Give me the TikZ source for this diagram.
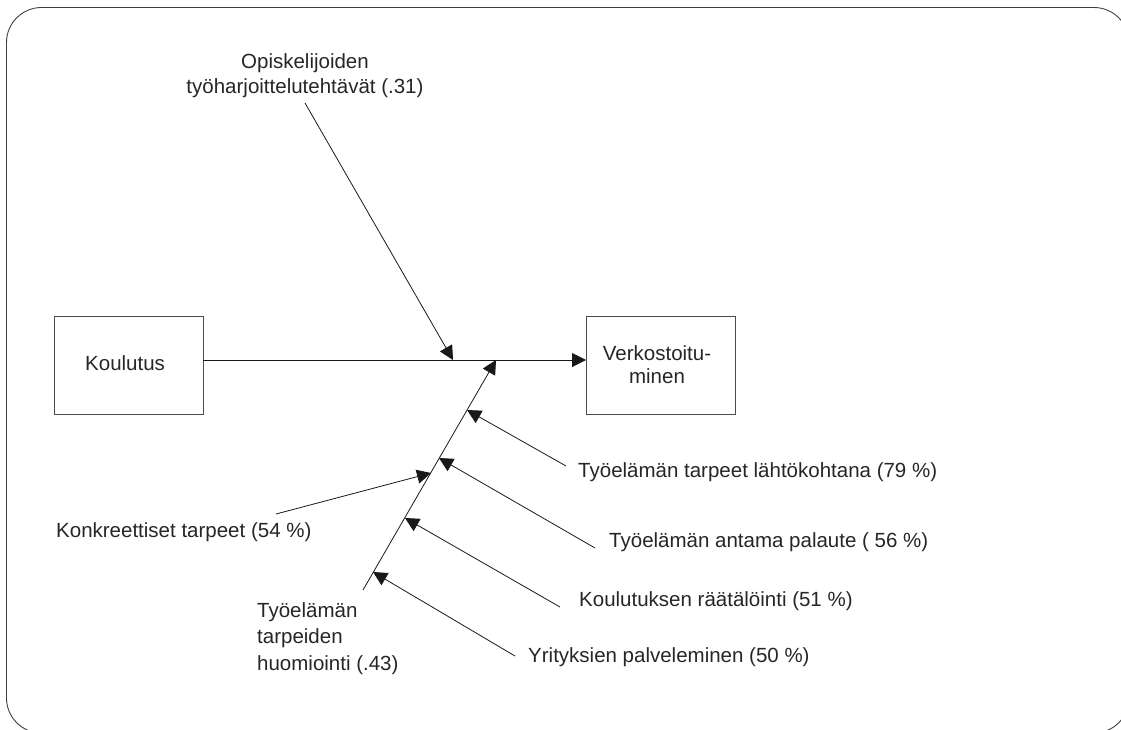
\documentclass[tikz,border=0pt]{standalone}
\usepackage{fontspec}
\setmainfont{Liberation Sans}
\usetikzlibrary{arrows.meta}
\begin{document}
\begin{tikzpicture}[x=1pt,y=-1pt,
  conn/.style={line width=0.8pt, draw=black!90},
  arr/.style={conn, -{Triangle[length=14pt,width=14pt]}},
  lbl/.style={font=\fontsize{20.5}{25}\selectfont, inner sep=0pt, anchor=base west, text=black!85},
  boxnode/.style={draw=black!70, line width=0.9pt, minimum width=149pt, minimum height=98pt, inner sep=0pt}]
\useasboundingbox (0,0) rectangle (1121,729);
\begin{scope}
  \clip (0,0) rectangle (1121,729);
  \draw[line width=0.9pt, draw=black!75, rounded corners=35pt] (6.5,7.5) rectangle (1129,733);
\end{scope}
% boxes
\node[boxnode] (koul) at (128.5,365) {};
\node[boxnode] (verk) at (661,365) {};
\node[lbl] (koult) at (85,370) {Koulutus};
\node[lbl, anchor=base, align=center, font=\fontsize{20.5}{23}\selectfont] (verkt) at (657,383) {Verkostoitu-\\minen};
% main line
\draw[arr] ([yshift=5pt]koul.east) -- ([yshift=5pt]verk.west);
% top cause
\node[lbl, anchor=base, align=center] (opis) at (305,93) {Opiskelijoiden\\työharjoittelutehtävät (.31)};
\coordinate (opisS) at (305,103);
\coordinate (opisT) at (453,360);
\draw[arr] (opisS) -- (opisT);
% spine
\coordinate (sb) at (363,590);
\coordinate (st) at (496,360);
\draw[arr] (sb) -- (st);
\node[lbl, align=left, font=\fontsize{20.5}{26.5}\selectfont] (tyo) at (257,670) {Työelämän\\tarpeiden\\huomiointi (.43)};
% sub causes
\coordinate (t79) at (467,410);
\coordinate (t56) at (439,458);
\coordinate (t54) at (431,473);
\coordinate (t51) at (405,518);
\coordinate (t50) at (373,572);
\coordinate (s79) at (566,466);
\coordinate (s56) at (595,548);
\coordinate (s54) at (276,514);
\coordinate (s51) at (560,607);
\coordinate (s50) at (515,656);
\node[lbl] (l79) at (578,477) {Työelämän tarpeet lähtökohtana (79 \%)};
\node[lbl] (l56) at (609,547) {Työelämän antama palaute ( 56 \%)};
\node[lbl] (l54) at (56,537) {Konkreettiset tarpeet (54 \%)};
\node[lbl] (l51) at (579,606) {Koulutuksen räätälöinti (51 \%)};
\node[lbl] (l50) at (528,662) {Yrityksien palveleminen (50 \%)};
\draw[arr] (s79) -- (t79);
\draw[arr] (s56) -- (t56);
\draw[arr] (s54) -- (t54);
\draw[arr] (s51) -- (t51);
\draw[arr] (s50) -- (t50);
\end{tikzpicture}
\end{document}
